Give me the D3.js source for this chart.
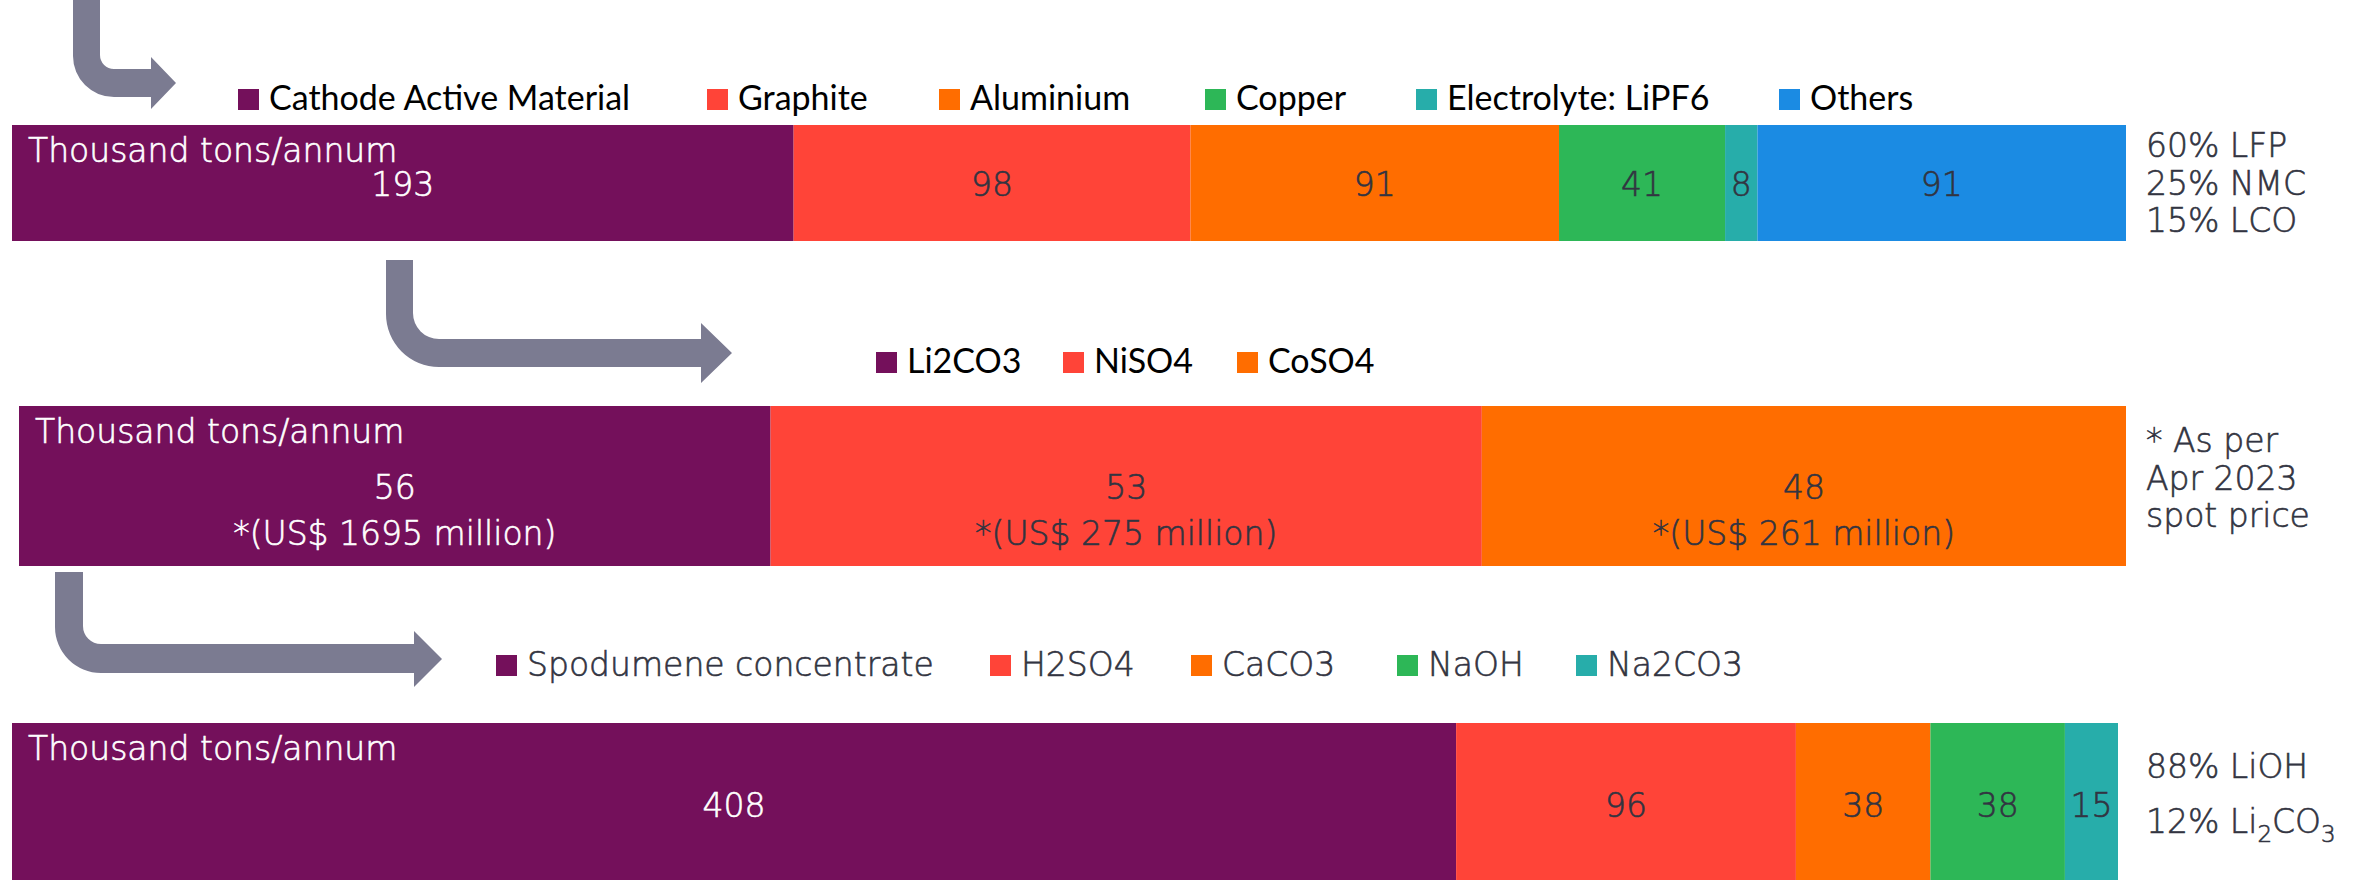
<!DOCTYPE html>
<html>
<head>
<meta charset="utf-8">
<title>Battery material flow</title>
<script src="https://d3js.org/d3.v7.min.js"></script>
<style>
  body { margin: 0; background: #fff; }
  svg { display: block; font-family: "DejaVu Sans", sans-serif; font-weight: 200; }
  .legend text { font-size: 33px; stroke: #323441; stroke-width: 0.6px; }
  .legend.dark text { font-family: Lato, sans-serif; font-weight: 400; font-size: 34px; stroke: none; }
  .lbl { font-size: 33px; stroke-width: 0.6px; }
  .note { font-size: 33px; fill: #323441; stroke: #323441; stroke-width: 0.6px; }
  .arrow { fill: #7b7b91; }
</style>
</head>
<body>
<script>
// bar 1: cell components (thousand tons/annum)
var cellNames = ['Cathode Active Material', 'Graphite', 'Aluminium', 'Copper', 'Electrolyte: LiPF6', 'Others'];
var cellValues = [193, 98, 91, 41, 8, 91];
var cellNotes = ['60% LFP', '25% NMC', '15% LCO'];

// bar 2: CAM precursors
var camNames = ['Li2CO3', 'NiSO4', 'CoSO4'];
var camValues = [56, 53, 48];
var camUsd = ['*(US$ 1695 million)', '*(US$ 275 million)', '*(US$ 261 million)'];
var camNotes = ['* As per', 'Apr 2023', 'spot price'];

// bar 3: refining inputs
var refNames = ['Spodumene concentrate', 'H2SO4', 'CaCO3', 'NaOH', 'Na2CO3'];
var refValues = [408, 96, 38, 38, 15];
var refNotes = ['88% LiOH', '12% Li_2CO_3'];   // _n = subscript

var unitLabel = 'Thousand tons/annum';
var colors = ['#74105b', '#ff4438', '#ff6d00', '#2db757', '#27adaa', '#1b8be3'];

var W = 2359, H = 880;
var svg = d3.select('body').append('svg').attr('width', W).attr('height', H);

// layout of the three panels (legX = left edge of each legend swatch)
var panels = [
  { names: cellNames, values: cellValues, sub: null, notes: cellNotes,
    x0: 12, x1: 2126, y: 125, h: 116,
    legX: [238, 707, 939, 1205, 1416, 1779], legY: 110, legFill: '#000', legCls: 'legend dark',
    noteY: 157, noteStep: 37.5 },
  { names: camNames, values: camValues, sub: camUsd, notes: camNotes,
    x0: 19, x1: 2126, y: 406, h: 160,
    legX: [876, 1063, 1237], legY: 373, legFill: '#000', legCls: 'legend dark',
    noteY: 452, noteStep: 37.5 },
  { names: refNames, values: refValues, sub: null, notes: refNotes,
    x0: 12, x1: 2118, y: 723, h: 162,
    legX: [496, 990, 1191, 1397, 1576], legY: 676, legFill: '#323441', legCls: 'legend',
    noteY: 778, noteStep: 55 }
];

// bent arrows between panels
var arrows = [
  { sx: 73, t: 27, top: 0, bt: 69, bb: 97, r: 14, hx: 151, tip: 176, cy: 83, hh: 26 },
  { sx: 386, t: 27, top: 260, bt: 339, bb: 367, r: 26, hx: 701, tip: 732, cy: 353, hh: 30 },
  { sx: 55, t: 28, top: 572, bt: 644, bb: 673, r: 18, hx: 414, tip: 442, cy: 659, hh: 28 }
];

arrows.forEach(function(a) {
  var p = d3.path();
  var R = a.r + a.t;
  p.moveTo(a.sx, a.top);
  p.arcTo(a.sx, a.bb, a.sx + R, a.bb, R);
  p.lineTo(a.hx, a.bb);
  p.lineTo(a.hx, a.cy + a.hh);
  p.lineTo(a.tip, a.cy);
  p.lineTo(a.hx, a.cy - a.hh);
  p.lineTo(a.hx, a.bt);
  p.arcTo(a.sx + a.t, a.bt, a.sx + a.t, a.top, a.r);
  p.lineTo(a.sx + a.t, a.top);
  p.closePath();
  svg.append('path').attr('class', 'arrow').attr('d', p.toString());
});

function subText(sel, s, x, dy) {
  // split "Li_2CO_3" into normal and subscript parts
  var parts = s.split(/_(\d)/);
  var shift = 0;
  parts.forEach(function(part, i) {
    if (!part) return;
    var t = sel.append('tspan');
    if (i === 0) t.attr('x', x).attr('dy', dy);
    if (i % 2 === 1) {
      t.attr('font-size', '23px').attr('dy', 9 - shift);
      shift = 9;
    } else if (i > 0) {
      t.attr('dy', -shift);
      shift = 0;
    }
    t.text(part);
  });
}

panels.forEach(function(pn) {
  var total = d3.sum(pn.values);
  var x = d3.scaleLinear().domain([0, total]).range([pn.x0, pn.x1]);
  var color = d3.scaleOrdinal().domain(pn.names).range(colors);

  var starts = [];
  var acc = 0;
  pn.values.forEach(function(v) { starts.push(acc); acc += v; });

  var g = svg.append('g');
  g.selectAll('rect').data(pn.values).enter().append('rect')
    .attr('x', function(d, i) { return x(starts[i]); })
    .attr('y', pn.y)
    .attr('width', function(d, i) { return x(starts[i] + d) - x(starts[i]); })
    .attr('height', pn.h)
    .attr('fill', function(d, i) { return color(pn.names[i]); });

  var ink = function(d, i) { return i === 0 ? '#fff' : '#323441'; };
  var cy = pn.y + pn.h / 2;
  g.selectAll('text.val').data(pn.values).enter().append('text')
    .attr('class', 'lbl val')
    .attr('text-anchor', 'middle')
    .attr('x', function(d, i) { return x(starts[i] + d / 2); })
    .attr('y', cy + 13)
    .attr('fill', ink).attr('stroke', ink)
    .text(function(d) { return d; });

  if (pn.sub) {
    g.selectAll('text.usd').data(pn.sub).enter().append('text')
      .attr('class', 'lbl usd')
      .attr('text-anchor', 'middle')
      .attr('x', function(d, i) { return x(starts[i] + pn.values[i] / 2); })
      .attr('y', cy + 59)
      .attr('fill', ink).attr('stroke', ink)
      .text(function(d) { return d; });
  }

  g.append('text').attr('class', 'lbl')
    .attr('x', pn.x0 + 16).attr('y', pn.y + 37)
    .attr('fill', '#fff').attr('stroke', '#fff')
    .text(unitLabel);

  // notes to the right of the bar, one text block
  var note = g.append('text').attr('class', 'note').attr('y', pn.noteY);
  pn.notes.forEach(function(n, i) {
    subText(note, n, 2146, i === 0 ? 0 : pn.noteStep);
  });

  // legend
  var leg = svg.append('g').attr('class', pn.legCls);
  pn.names.forEach(function(name, i) {
    leg.append('rect')
      .attr('x', pn.legX[i]).attr('y', pn.legY - 21)
      .attr('width', 21).attr('height', 21)
      .attr('fill', color(name));
    leg.append('text')
      .attr('x', pn.legX[i] + 31).attr('y', pn.legY)
      .attr('fill', pn.legFill)
      .text(name);
  });
});
</script>
</body>
</html>
